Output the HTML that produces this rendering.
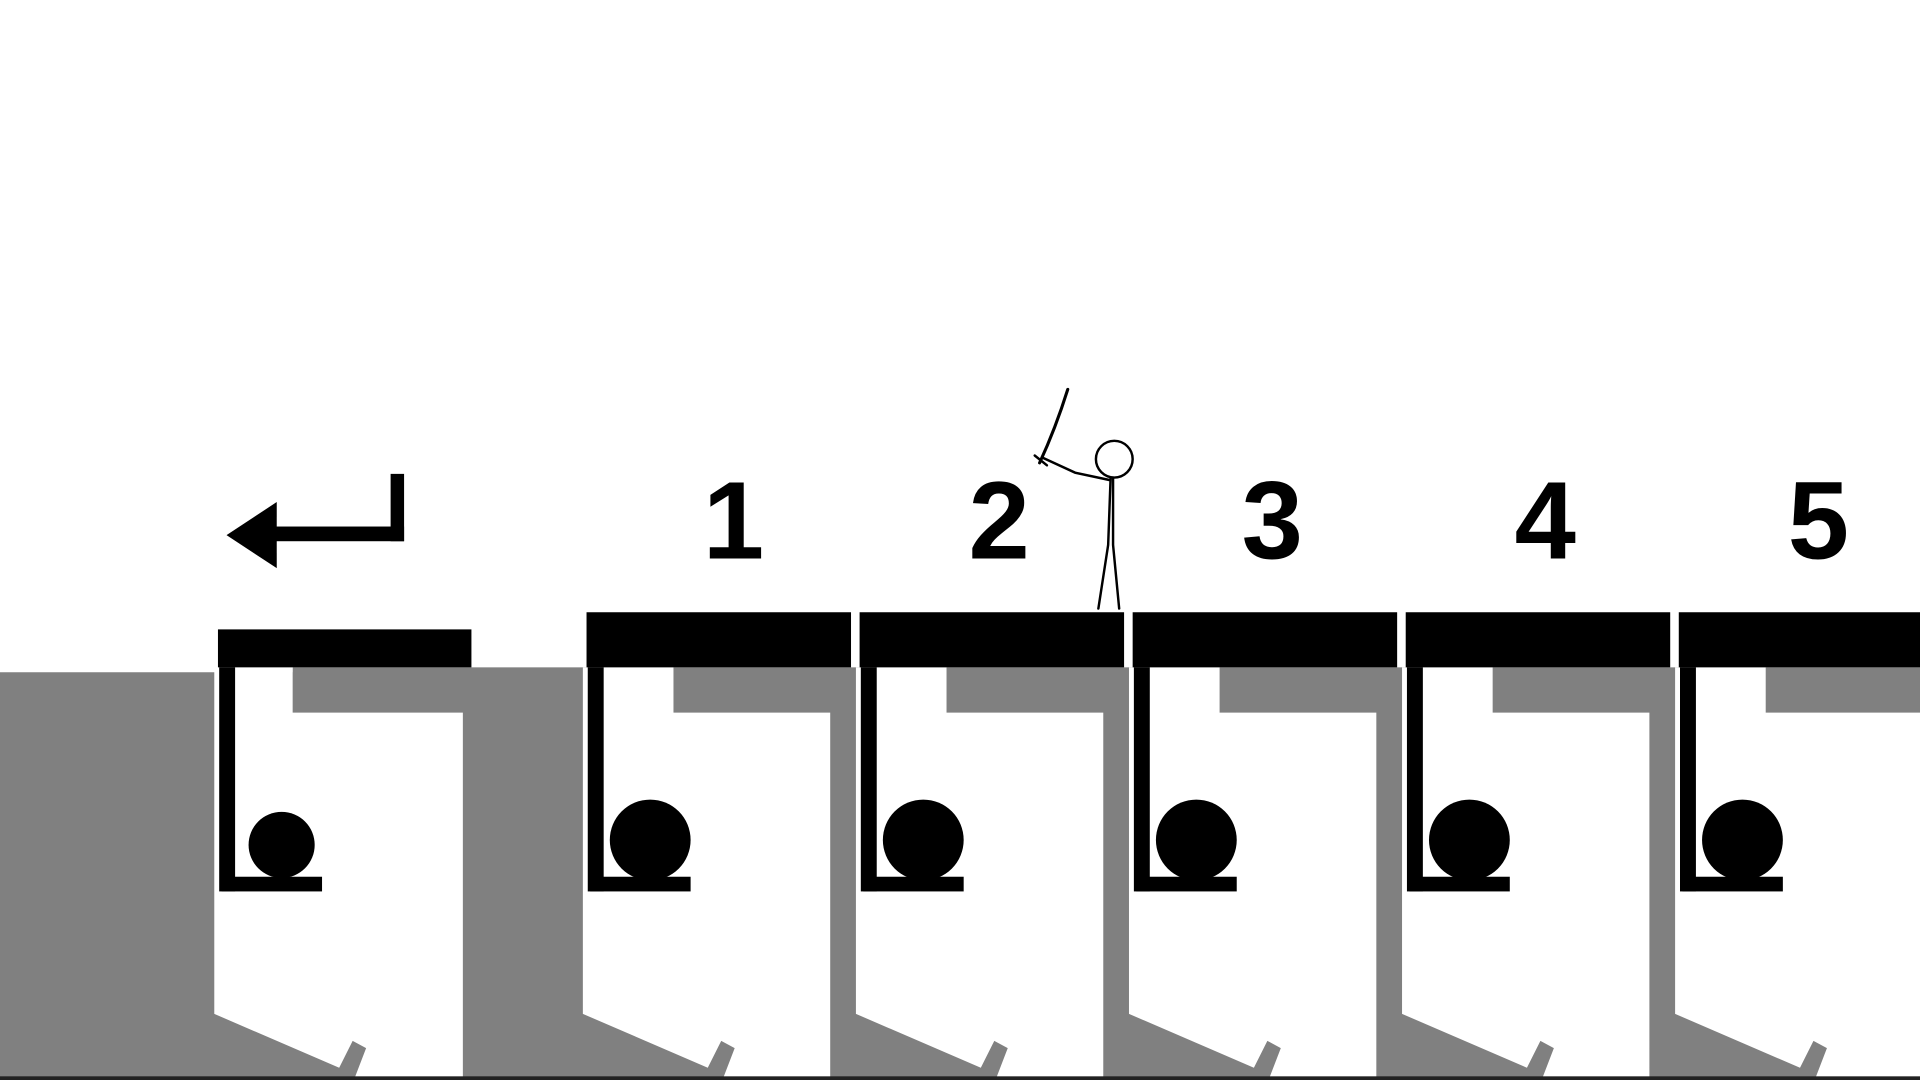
<!DOCTYPE html>
<html><head><meta charset="utf-8"><style>
html,body{margin:0;padding:0;background:#fff;overflow:hidden}
svg{display:block}
</style></head><body>
<svg id="scene" width="1920" height="1080" viewBox="0 0 1568 882" xmlns="http://www.w3.org/2000/svg">
<rect x="0" y="0" width="1568" height="882" fill="#ffffff"/>
<rect x="0" y="549" width="1568" height="333" fill="#808080"/>
<rect x="239" y="545" width="1329" height="10" fill="#808080"/>
<g id="units"></g>
<g>
<rect x="225" y="430" width="105" height="12" fill="#000"/>
<rect x="319" y="387" width="11" height="55" fill="#000"/>
<polygon points="185,437 226,410 226,464" fill="#000"/>
</g>
<g stroke="#000" stroke-width="2" fill="none" stroke-linecap="round">
<circle cx="910" cy="375" r="15" fill="#fff"/>
<path d="M907 390 L905 445 L897 497 M909 390 L909 445 L914 497"/>
<path d="M906 392 L878 386 L852 374"/>
<path d="M849 378 Q862 350 872 318" stroke-width="2.5"/>
<path d="M845 372 L855 380"/>
</g>
<rect x="0" y="879" width="1568" height="3" fill="#222"/>
</svg>
<script>
const levelLabels = ["", "1", "2", "3", "4", "5"];
const unitX = [178, 479, 702, 925, 1148, 1371];
const NS = "http://www.w3.org/2000/svg";
const g = document.getElementById('units');
function mk(tag, attrs, parent){const e=document.createElementNS(NS,tag);for(const k in attrs)e.setAttribute(k,attrs[k]);parent.appendChild(e);return e;}
levelLabels.forEach((lab,i)=>{
  const x=unitX[i];
  const back = i===0;
  const u=mk('g',{},g);
  
  
  const w = back ? 207 : 216;
  const topY = back ? 514 : 500;
  mk('polygon',{points:`${x-3},545 ${x+61+(back?0:10)},545 ${x+61+(back?0:10)},582 ${x+w-(back?7:17)},582 ${x+w-(back?7:17)},882 ${x+111},882 ${x+121},856 ${x+110},850 ${x+99},872 ${x-3},828`,fill:'#fff'},u);
  mk('rect',{x:x,y:topY,width:w,height:545-topY,fill:'#000'},u);
  mk('rect',{x:x+1,y:545,width:13,height:183,fill:'#000'},u);
  mk('rect',{x:x+3,y:716,width:82,height:12,fill:'#000'},u);
  mk('circle',{cx:x+52,cy:back?690:686,r:back?27:33,fill:'#000'},u);
  if(!back){
    const t=mk('text',{x:x+(lab==="1"?120:114),y:456,'text-anchor':'middle','font-family':'"Liberation Sans", sans-serif','font-weight':'bold','font-size':'90',fill:'#000'},u);
    t.textContent=lab;
    
    
  }
});
</script>
</body></html>
